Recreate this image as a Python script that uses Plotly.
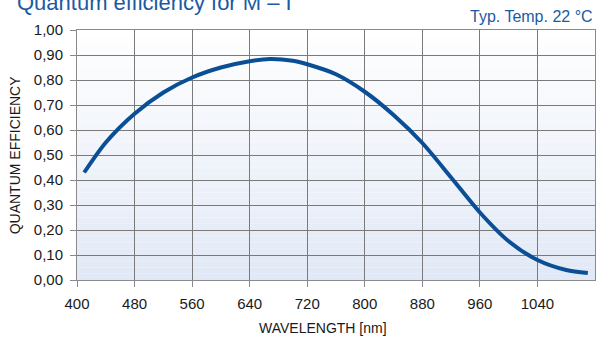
import plotly.graph_objects as go

wavelength = [410, 440, 480, 520, 560, 600, 640, 668, 700, 720, 760, 800, 840, 880, 920, 960, 1000, 1040, 1080, 1110]
efficiency = [0.43, 0.55, 0.665, 0.75, 0.81, 0.85, 0.875, 0.884, 0.877, 0.863, 0.823, 0.753, 0.66, 0.548, 0.41, 0.27, 0.155, 0.08, 0.04, 0.028]

x_ticks = [400, 480, 560, 640, 720, 800, 880, 960, 1040]
y_ticks = [0.0, 0.1, 0.2, 0.3, 0.4, 0.5, 0.6, 0.7, 0.8, 0.9, 1.0]
y_tick_labels = ["0,00", "0,10", "0,20", "0,30", "0,40", "0,50", "0,60", "0,70", "0,80", "0,90", "1,00"]

FONT = "Liberation Sans, Arial, sans-serif"
BLUE = "#1b5aa3"

fig = go.Figure()
fig.add_trace(go.Scatter(
    x=wavelength, y=efficiency, mode="lines",
    line=dict(color="#0a4f96", width=4, shape="spline", smoothing=0.8),
    hoverinfo="skip", showlegend=False,
))

# vertical gradient background (white -> light blue)
n = 40
shapes = []
for i in range(n):
    t = i / (n - 1)
    r = int(255 + (226 - 255) * t)
    g = int(255 + (233 - 255) * t)
    b = int(255 + (246 - 255) * t)
    shapes.append(dict(type="rect", xref="paper", yref="paper",
                       x0=0, x1=1, y0=1 - (i + 1) / n, y1=1 - i / n,
                       fillcolor=f"rgb({r},{g},{b})", line=dict(width=0), layer="below"))

fig.update_layout(
    width=598, height=340,
    margin=dict(l=77, r=3, t=30, b=60),
    paper_bgcolor="white", plot_bgcolor="rgba(0,0,0,0)",
    font=dict(family=FONT, color="#1a1a1a"),
    shapes=shapes,
    xaxis=dict(range=[400, 1120], tickvals=x_ticks, ticktext=[str(v) for v in x_ticks],
               showgrid=True, gridcolor="#7a7a7a", gridwidth=1,
               showline=True, linecolor="#8a8a8a", linewidth=1, mirror=True,
               ticks="outside", ticklen=6, tickcolor="#8a8a8a", ticklabelstandoff=4,
               tickfont=dict(size=15, family=FONT, color="#1a1a1a"),
               zeroline=False, fixedrange=True),
    yaxis=dict(range=[0, 1.0], tickvals=y_ticks, ticktext=y_tick_labels,
               showgrid=True, gridcolor="#7a7a7a", gridwidth=1,
               showline=True, linecolor="#8a8a8a", linewidth=1, mirror=True,
               ticks="outside", ticklen=6, tickcolor="#8a8a8a", ticklabelstandoff=4,
               tickfont=dict(size=15, family=FONT, color="#1a1a1a"),
               zeroline=False, fixedrange=True),
    annotations=[
        dict(text="Quantum efficiency for M \u2013 I", xref="paper", yref="paper",
             x=-0.12, y=1.052, xanchor="left", yanchor="bottom", showarrow=False,
             font=dict(size=22, family=FONT, color=BLUE)),
        dict(text="Typ. Temp. 22 \u00b0C", xref="paper", yref="paper",
             x=1.0, y=1.01, xanchor="right", yanchor="bottom", showarrow=False,
             font=dict(size=16, family=FONT, color=BLUE)),
        dict(text="WAVELENGTH [nm]", xref="paper", yref="paper",
             x=0.475, y=-0.19, xanchor="center", yanchor="middle", showarrow=False,
             font=dict(size=14, family=FONT, color="#1a1a1a")),
        dict(text="QUANTUM EFFICIENCY", xref="paper", yref="paper",
             x=-0.119, y=0.5, xanchor="center", yanchor="middle", showarrow=False,
             textangle=-90, font=dict(size=14, family=FONT, color="#1a1a1a")),
    ],
)

fig.write_html("out.html")
